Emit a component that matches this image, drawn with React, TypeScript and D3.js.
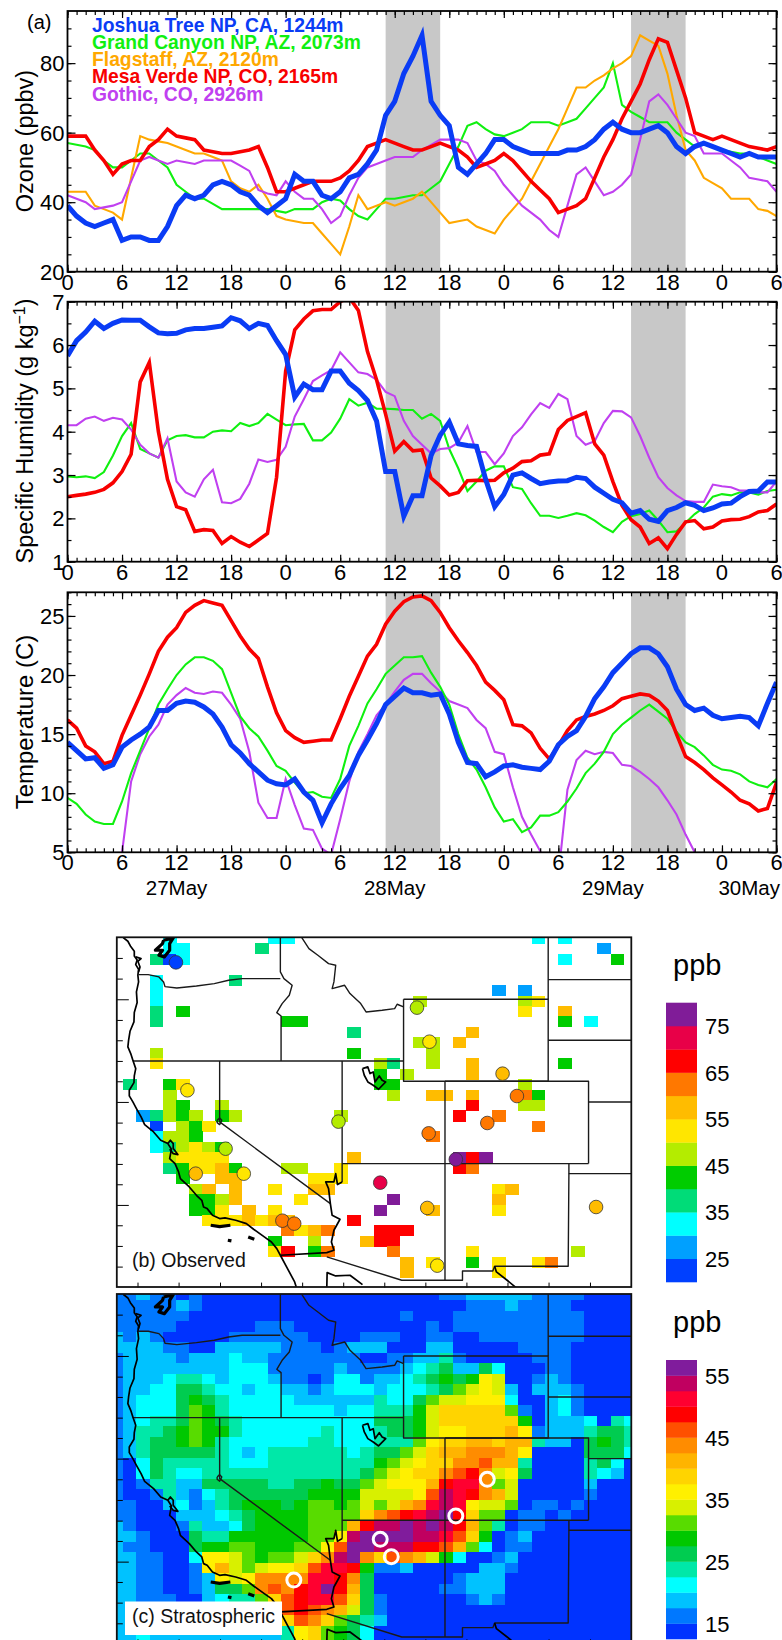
import React, { useEffect, useRef } from "react";
import * as d3 from "d3";

const hours = d3.range(0, 79);
const hourLabels = ["0", "6", "12", "18", "0", "6", "12", "18", "0", "6", "12", "18", "0", "6"];
const shadedSpans = [[35, 41], [62, 68]];
const dateLabels = ["27May", "28May", "29May", "30May"];
const dateHours = [12, 36, 60, 75];

const siteNames = ["Joshua Tree NP, CA, 1244m", "Grand Canyon NP, AZ, 2073m", "Flagstaff, AZ, 2120m", "Mesa Verde NP, CO, 2165m", "Gothic, CO, 2926m"];
const siteColors = ["#0a3cf5", "#10f010", "#ffa800", "#f80000", "#c040f0"];

const ozoneJoshua = [
  39, 36, 34, 33, 34, 35, 29, 30, 30, 29,
  29, 33, 39, 42, 41, 42, 45, 46, 45, 43,
  42, 39, 37, 39, 41, 48, 46, 46, 42, 41,
  43, 47, 48, 51, 55, 65, 69, 77, 82, 88,
  69, 65, 62, 50, 48, 51, 54, 58, 58, 56,
  55, 54, 54, 54, 54, 55, 55, 56, 58, 61,
  63, 61, 60, 60, 61, 62, 60, 56, 54, 56,
  57, 56, 55, 54, 53, 54, 53, 53, 53,
];
const ozoneGrand = [
  57, 56.5, 56, 55, 52, 50, 50, 52, 54, 54,
  52, 50, 45, 43, 41, 41, 39.5, 38, 38, 38,
  38, 38, 38, 37.5, 37, 38, 38, 38, 40, 41,
  40.5, 38, 36, 35, 38, 41, 41, 41.5, 42, 42,
  44, 46, 51, 56, 62, 63, 61, 59.5, 59, 60,
  61, 63, 63, 63, 62, 63, 64, 67, 70, 73,
  80, 68, 66, 64.5, 63, 63, 63, 60, 58, 56,
  57, 56, 55, 54.5, 54, 54, 53, 52, 51,
];
const ozoneFlagstaff = [
  43, 43, 43, 39, 38, 37, 35, 47, 59, 58,
  57.5, 57, 56, 55, 54, 54, 53, 52, 46, 44,
  43, 45, 41, 36, 35, 34.5, 34, 34, 31, 28,
  25, 33, 42, 38, 39, 40, 39, 40, 41, 43,
  40, 37, 34, 34.5, 35, 33, 32, 31, 35, 38,
  41, 46, 51, 56, 61, 67, 73, 73, 75, 76.5,
  78.5, 80, 82, 88, 86.5, 85, 77, 65, 55, 52,
  47, 45.5, 44, 41, 41, 41, 38, 37.5, 36,
];
const ozoneMesa = [
  59, 59, 59, 55, 52, 48, 51, 52, 52, 56,
  58, 61, 59, 58.5, 58, 55, 54.5, 54, 54, 54.5,
  55, 56, 50, 43, 43, 44, 45, 46, 46, 46,
  47, 49, 52, 56, 57, 58, 57, 56, 55, 55,
  56, 57, 56, 55, 53, 50, 51, 52, 54, 52,
  49, 46, 43.5, 41, 37, 38, 39, 41, 47, 53,
  58, 64, 69, 74, 81, 87, 86, 78, 70, 60,
  59, 58, 59, 58, 57, 56, 55.5, 55, 56,
];
const ozoneGothic = [
  42, 41, 40, 38, 38.5, 39, 40, 46, 52, 53,
  52, 51, 52, 51.5, 51, 52, 52, 52, 52, 50.5,
  49, 43.5, 42.5, 42, 46, 43, 41, 41, 38, 34,
  36, 42, 47, 50, 51, 52, 53, 53, 53, 55,
  56.5, 58, 58, 58, 57, 52, 51, 49, 45, 42,
  39, 37, 35, 32, 30, 39, 48, 50, 46, 42,
  43, 45, 48, 58, 69, 71, 68, 64, 60, 59,
  54, 54, 54, 52, 50, 47, 46.5, 46, 43,
];

const humidJoshua = [
  5.75, 6.1, 6.3, 6.55, 6.38, 6.5, 6.58, 6.57, 6.57, 6.42,
  6.28, 6.26, 6.27, 6.35, 6.38, 6.38, 6.41, 6.44, 6.63, 6.56,
  6.38, 6.5, 6.45, 6.1, 5.78, 4.8, 5.1, 4.97, 4.97, 5.4,
  5.4, 5.12, 4.95, 4.72, 4.25, 3.08, 3.08, 2.05, 2.52, 2.52,
  3.45, 3.92, 4.22, 3.72, 3.68, 3.66, 2.9, 2.27, 2.55, 3.0,
  3.05, 2.92, 2.8, 2.84, 2.86, 2.87, 2.95, 2.92, 2.72, 2.58,
  2.44, 2.36, 2.12, 2.18, 1.98, 1.93, 2.18, 2.25, 2.36, 2.3,
  2.18, 2.24, 2.33, 2.35, 2.5, 2.62, 2.63, 2.84, 2.84,
];
const humidGrand = [
  2.97, 2.95, 2.97, 2.93, 3.07, 3.45, 3.9, 4.2, 3.6, 3.5,
  3.4, 3.8, 3.9, 3.92, 3.87, 3.87, 4.0, 4.03, 4.01, 4.2,
  4.13, 4.2, 4.41, 4.28, 4.15, 4.17, 4.18, 3.8, 3.8, 3.98,
  4.3, 4.75, 4.6, 4.67, 4.53, 4.53, 4.52, 4.5, 4.5, 4.3,
  4.41, 4.25, 3.6, 3.15, 2.63, 2.85, 3.1, 3.2, 3.2, 2.72,
  2.68, 2.35, 2.06, 2.06, 2.01, 2.06, 2.12, 2.07, 1.95, 1.8,
  1.68, 1.92, 2.05, 2.1, 2.18, 1.95, 1.68, 1.7, 1.9, 2.1,
  2.25, 2.5, 2.56, 2.53, 2.6, 2.6, 2.55, 2.63, 2.66,
];
const humidMesa = [
  2.5, 2.53, 2.56, 2.6, 2.67, 2.82, 3.08, 3.48, 5.15, 5.6,
  4.0, 2.9, 2.27, 2.2, 1.7, 1.74, 1.72, 1.42, 1.58, 1.45,
  1.35, 1.5, 1.65, 2.95, 5.4, 6.35, 6.6, 6.79, 6.82, 6.82,
  7.0, 7.1, 6.8, 5.85, 5.2, 4.4, 3.55, 3.77, 3.56, 3.58,
  2.93, 2.75, 2.54, 2.6, 2.87, 2.88, 2.87, 2.88, 3.05, 3.16,
  3.31, 3.33, 3.46, 3.49, 4.05, 4.26, 4.35, 4.44, 3.72, 3.46,
  2.85, 2.3, 1.97, 1.8, 1.42, 1.55, 1.3, 1.63, 1.92, 1.95,
  1.76, 1.8, 1.94, 1.97, 1.98, 2.04, 2.15, 2.18, 2.33,
];
const humidGothic = [
  4.15, 4.15, 4.3, 4.35, 4.25, 4.32, 4.28, 4.05, 3.7, 3.5,
  3.4, 3.85, 2.85, 2.6, 2.5, 2.9, 3.12, 2.37, 2.35, 2.45,
  2.8, 3.36, 3.3, 3.35, 3.65, 4.35, 4.75, 5.17, 5.3, 5.42,
  5.83, 5.6, 5.37, 5.33, 5.2, 4.92, 4.82, 4.25, 3.9, 3.7,
  3.5, 3.6, 3.62, 3.75, 4.13, 3.53, 3.53, 3.25, 3.5, 3.9,
  4.1, 4.4, 4.66, 4.55, 4.87, 4.75, 3.9, 3.7, 3.78, 4.2,
  4.48, 4.47, 4.33, 3.9, 3.4, 2.95, 2.7, 2.53, 2.4, 2.38,
  2.38, 2.78, 2.74, 2.72, 2.64, 2.64, 2.6, 2.6, 2.85,
];

const tempJoshua = [
  14.3, 13.6, 12.9, 13, 12.1, 12.4, 13.9, 14.5, 15, 15.6,
  17, 17, 17.6, 17.8, 17.7, 17.3, 16.7, 15.6, 14.1, 13.4,
  12.5, 11.8, 11.1, 10.8, 10.7, 11.2, 10.1, 9.4, 7.5, 9.1,
  10.4, 11.5, 13.2, 14.5, 15.9, 17.5, 18.2, 18.9, 18.5, 18.5,
  18.3, 18.4, 16.7, 14.3, 12.6, 12.5, 11.4, 11.8, 12.3, 12.4,
  12.2, 12.1, 12, 12.7, 14.1, 14.8, 15.3, 16.5, 18, 19,
  20.2, 21, 21.8, 22.3, 22.3, 21.8, 20.7, 18.8, 17.5, 17,
  17.2, 16.6, 16.3, 16.4, 16.5, 16.4, 15.7, 17.6, 19.4,
];
const tempGrand = [
  9.6, 9.1, 8.2, 7.6, 7.4, 7.4, 9.3, 11.7, 13.6, 15.5,
  17.5, 18.8, 20, 20.9, 21.5, 21.5, 21.2, 20.5, 18.5, 16.5,
  15.5, 14.8, 13.6, 12.3, 11.9, 10.9, 10, 10.1, 9.7, 9.6,
  11.2, 14, 15.7, 17.6, 18.8, 20.1, 20.8, 21.5, 21.5, 21.6,
  20.2, 19, 17.5, 15, 13, 12, 10.5, 8.8, 7.6, 7.8,
  6.7, 7.1, 8.1, 8.1, 8.4, 9.3, 10.4, 11.7, 12.5, 13.5,
  15, 15.8, 16.4, 17, 17.5, 16.9, 16.3, 15.2, 14.3, 13.9,
  13.2, 12.4, 12, 11.9, 11.6, 11, 10.7, 10.5, 11.2,
];
const tempMesa = [
  16.2, 15.5, 14, 13.5, 12.5, 12.7, 14.9, 16.6, 18.3, 20.1,
  22, 23.2, 24, 25.3, 25.9, 26.3, 26.1, 25.9, 24.6, 23.3,
  22.2, 21.4, 19, 16.8, 15.3, 14.7, 14.3, 14.4, 14.5, 14.5,
  16.3, 18.2, 19.9, 21.6, 22.6, 24.3, 25.4, 26.2, 26.6, 26.7,
  26.3, 25.3, 24, 22.9, 21.9, 20.8, 19.4, 18.7, 17.9, 15.8,
  15.7, 15.1, 13.8, 12.9, 14, 15.3, 16.2, 16.5, 16.7, 17,
  17.4, 18, 18.2, 18.4, 18.3, 17.8, 17, 15, 13.1, 12.6,
  12, 11.3, 10.7, 10.1, 9.4, 9.1, 8.5, 8.7, 10.9,
];
const tempGothic = [
  3, 3, 3, 3, 3, 3, 5, 11, 13.3, 14.8,
  15.8, 17.5, 18.3, 18.9, 18.5, 18.4, 18.6, 18.5, 17.5, 16.3,
  13.5, 9.2, 7.9, 7.9, 11.2, 9, 7, 6.9, 5.3, 4.8,
  7.8, 11, 13.5, 15, 16.6, 17.5, 18.6, 19.6, 20.1, 20.1,
  19.3, 18.6, 17.8, 17.5, 17.2, 16.2, 15.5, 13.5, 13.3, 10.5,
  8, 6.5, 5.1, 3, 3, 10.3, 12.8, 13.6, 13.3, 13.5,
  13.4, 12.4, 12.3, 11.8, 11.2, 10.5, 9.4, 8.2, 6.5, 5,
  3.5, 3, 3, 3, 3, 3, 3, 3, 3,
];

// colour steps of the two maps, bottom of the colour bar first
const obsLevels = ["a", "b", "c", "d", "e", "f", "g", "h", "i", "j", "k", "l"];
const obsColors = ["#0040ff", "#00a0ff", "#00ffff", "#00dc78", "#00cc00", "#b4ec00", "#ffe600", "#ffbc00", "#ff7800", "#ff0000", "#e80048", "#801c98"];
const obsTicks = [25, 35, 45, 55, 65, 75];
const stratLevels = ["a", "b", "c", "d", "e", "f", "g", "h", "i", "j", "k", "l", "m", "n", "o", "p", "q", "r"];
const stratColors = ["#0033ff", "#0078ff", "#00c2ff", "#00ffff", "#00e8a8", "#00cc50", "#00c800", "#58dc00", "#d8f000", "#fff000", "#ffd400", "#ffb400", "#ff8c00", "#ff5000", "#ff0000", "#ff0030", "#c00060", "#801c9c"];
const stratTicks = [15, 25, 35, 45, 55];

// observed cells: column, row, colour step
const obsCells: [number, number, string][] = [
  [12, 0, "c"], [13, 0, "c"], [32, 0, "c"], [34, 0, "c"], [4, 0, "c"],
  [4, 1, "c"], [5, 1, "c"], [11, 1, "d"], [37, 1, "b"],
  [3, 2, "d"], [4, 2, "a"], [5, 2, "c"], [34, 2, "c"], [38, 2, "e"],
  [3, 4, "c"], [9, 4, "d"],
  [3, 5, "c"], [29, 5, "b"], [31, 5, "b"],
  [3, 6, "c"], [23, 6, "f"], [31, 6, "f"], [32, 6, "g"],
  [3, 7, "d"], [5, 7, "e"], [31, 7, "g"], [34, 7, "h"],
  [3, 8, "d"], [13, 8, "e"], [14, 8, "e"], [34, 8, "e"], [36, 8, "c"],
  [18, 9, "d"], [27, 9, "h"],
  [23, 10, "f"], [24, 10, "f"], [26, 10, "h"],
  [3, 11, "f"], [18, 11, "e"], [24, 11, "f"],
  [3, 12, "g"], [20, 12, "f"], [21, 12, "d"], [24, 12, "f"], [27, 12, "h"], [34, 12, "e"],
  [20, 13, "e"], [22, 13, "f"], [27, 13, "h"],
  [1, 14, "d"], [4, 14, "e"], [5, 14, "g"], [20, 14, "e"], [21, 14, "e"], [31, 14, "f"],
  [4, 15, "f"], [21, 15, "f"], [24, 15, "h"], [25, 15, "h"], [27, 15, "h"], [31, 15, "i"], [32, 15, "e"],
  [4, 16, "f"], [5, 16, "e"], [8, 16, "f"], [27, 16, "j"], [31, 16, "f"], [32, 16, "f"],
  [2, 17, "b"], [3, 17, "d"], [4, 17, "f"], [5, 17, "e"], [6, 17, "f"], [8, 17, "e"], [9, 17, "f"], [17, 17, "f"], [26, 17, "j"], [29, 17, "i"],
  [3, 18, "a"], [5, 18, "f"], [6, 18, "e"], [7, 18, "g"], [32, 18, "i"],
  [3, 19, "c"], [4, 19, "f"], [5, 19, "f"], [6, 19, "e"], [24, 19, "i"],
  [3, 20, "c"], [4, 20, "d"], [5, 20, "f"], [6, 20, "g"], [7, 20, "f"], [8, 20, "e"],
  [4, 21, "f"], [5, 21, "g"], [6, 21, "g"], [7, 21, "g"], [8, 21, "g"], [18, 21, "h"], [26, 21, "l"], [27, 21, "j"], [28, 21, "l"],
  [4, 22, "d"], [5, 22, "e"], [6, 22, "g"], [7, 22, "g"], [8, 22, "h"], [9, 22, "e"], [13, 22, "f"], [14, 22, "f"], [17, 22, "g"], [26, 22, "j"], [27, 22, "i"],
  [5, 23, "e"], [8, 23, "h"], [9, 23, "h"], [15, 23, "g"], [16, 23, "g"], [17, 23, "g"],
  [6, 24, "f"], [7, 24, "h"], [9, 24, "h"], [12, 24, "g"], [15, 24, "h"], [16, 24, "h"], [29, 24, "g"], [30, 24, "h"],
  [6, 25, "e"], [7, 25, "e"], [8, 25, "f"], [9, 25, "h"], [14, 25, "g"], [21, 25, "l"], [29, 25, "h"],
  [6, 26, "e"], [7, 26, "e"], [8, 26, "g"], [10, 26, "h"], [12, 26, "g"], [20, 26, "l"], [24, 26, "h"], [29, 26, "g"],
  [7, 27, "g"], [8, 27, "g"], [9, 27, "g"], [10, 27, "h"], [11, 27, "g"], [12, 27, "h"], [13, 27, "h"], [18, 27, "j"],
  [13, 28, "i"], [14, 28, "g"], [15, 28, "h"], [16, 28, "i"], [20, 28, "j"], [21, 28, "j"], [22, 28, "j"],
  [12, 29, "e"], [15, 29, "f"], [19, 29, "h"], [20, 29, "j"], [21, 29, "j"],
  [12, 30, "g"], [13, 30, "j"], [15, 30, "e"], [16, 30, "i"], [21, 30, "i"], [27, 30, "g"], [35, 30, "f"],
  [22, 31, "h"], [24, 31, "g"], [27, 31, "e"], [29, 31, "g"], [32, 31, "g"], [33, 31, "i"],
  [22, 32, "h"], [29, 32, "g"],
];

// observation sites: column, row, colour step
const obsSites: [number, number, string][] = [
  [5.0, 2.83, "a"], [23.3, 7.16, "f"], [24.25, 10.42, "g"], [5.87, 15.07, "g"], [17.34, 18.07, "f"],
  [30.89, 15.62, "i"], [28.64, 18.2, "i"], [24.19, 19.19, "i"], [29.8, 13.48, "h"], [8.77, 20.66, "f"],
  [26.25, 21.68, "l"], [6.5, 23.05, "h"], [10.15, 23.05, "g"], [20.51, 23.91, "k"], [24.08, 26.33, "h"],
  [36.9, 26.24, "h"], [13.08, 27.55, "i"], [13.98, 27.83, "i"], [24.84, 31.85, "g"],
];
const stratSites: [number, number][] = [[28.64, 18.06], [26.25, 21.55], [20.51, 23.77], [21.35, 25.43], [13.95, 27.65]];

// stratospheric ozone, one string per grid row, one colour step per column
const stratRows = [
  "bbcbbabaaaaaaaaaaaaaaaaaabbcccccbbbbaaaa",
  "bbbbbcbaaaaaaaaaaaaaaaaaaaabbbcbbbbaaaaa",
  "bbbbbbaaaaaaaaaaaaaaaabaaabbbbbbbbbbaaaa",
  "bbbbbaaaaaabbbaaaaaaaaaababbbbbbbbbbaaaa",
  "cbcbaaaaabbbbbbaaaabbbaabbaabbbbbbbbaaaa",
  "ccccbbaacccccbbbabcccaaaccaaaaabbbbaaaaa",
  "bccccbcccdccbbbbbbbaabbccebaaaaabbbaaaaa",
  "bccccccccdddbbbbbcbbbbcdefccfdaaabbaaaaa",
  "bcccdeedcdddcbbabddbccdefgfgjiaabcbaaaaa",
  "bccddffeddcddccbcdddcdddefhijicacccbaaaa",
  "bcdddfgfedddddcccccceddfhiijjjdaacdbaaaa",
  "bcdddfhgeddddddddcddeeegikkkkkhbacdbaaaa",
  "bcdeefhgfeddddddddddfffgikkkkkkgacccdaed",
  "bceefghggeddddddedddeffgijjkkkljbccceffe",
  "bceffghgeddddddeedddeeehjkkllklleccafgfe",
  "bcefffffedcdeeeeeedeffhikllmmmljaaaafffd",
  "badfeeeeedddeeeeeeeeghijkkmmnlleaaaaefda",
  "badfeddeeeeeeeeeeeefhijkkmnomijfaaaaedca",
  "babeeccfffffeeffgffhijjjloppmhiaaaaacaaa",
  "baabecbdeffffffggggiiiijnqpomliaaaaabaaa",
  "bbaacdbcefgggfghhghihilmpqpjiihabbabaaaa",
  "bbaaacccdefgggghhhhkmnopqrokhhabbabaaaaa",
  "cbaaabeccdfgggghhhloqqrqrqolheabbaaaaaaa",
  "ccbaaafeegggggghhjqrrrrqqpnkgabcaaaaaaaa",
  "cbbaaafgghhggghhjnrrqqqoonlhdabbaaaaaaaa",
  "ccbbaadjjihghhikmqrmknmligdaabcaaaaaaaaa",
  "ccbbaabjlihijjknppogbbcaaaaaccbaaaaaaaaa",
  "ccbbaabcjijmmmmppomfaaaaaabcccaaaaaaaaaa",
  "ccbbaabcffhmnmoprolfaaaaabbcccaaaaaaaaaa",
  "ccbbbaacdeehknoppnkfbaaaaaabcbaaaaaaaaaa",
  "ccbbcccccccccnonmlifbaaaaaaaaaaaaaaaaaaa",
  "cccccccccccccknmkhfecaaaaaaaaaaaaaaaaaaa",
  "ccdccccccccccejkhgfdaaaaaaaaaaaaaaaaaaaa",
  "ccdccccccccccejkhgfdaaaaaaaaaaaaaaaaaaaa",
];

// outlines, in map units of the observed panel
const coastLine = [[65, 37], [78, 48], [85, 62], [96, 78], [96, 92], [104, 104], [100, 118], [108, 132], [106, 150], [108, 170], [102, 200], [104, 232], [96, 262], [95, 290], [84, 318], [80, 345], [78, 365], [86, 385], [92, 405], [100, 430], [96, 452], [95, 472], [82, 495], [82, 512], [92, 530], [102, 550], [115, 575], [125, 598], [150, 620], [170, 645], [190, 655], [200, 672], [195, 700], [210, 715], [220, 740], [225, 760], [250, 785], [270, 810], [285, 825], [290, 845], [300, 850], [315, 870], [335, 880], [350, 878], [380, 885], [410, 895], [430, 912], [460, 935], [480, 950], [495, 970], [505, 990], [525, 1030], [545, 1070], [550, 1087]];
const bayLine = [[190, 655], [197, 645], [205, 655], [205, 670], [218, 688], [205, 685], [195, 672]];
const washBay = [[100, 95], [115, 100], [106, 108], [112, 125], [108, 140]];
const pugetSound = [[178, 45], [205, 38], [195, 55], [195, 75], [180, 95], [165, 90], [175, 75], [155, 75], [175, 55], [178, 45]];
const washOregon = [[108, 148], [135, 148], [165, 155], [178, 170], [182, 184], [215, 188], [270, 182], [320, 175], [360, 165], [398, 160], [505, 160]];
const idahoWest = [[505, 37], [505, 140], [515, 160], [538, 180], [530, 210], [510, 235], [495, 262], [507, 272], [507, 407]];
const idahoMontana = [[565, 37], [585, 70], [610, 90], [640, 115], [660, 120], [655, 170], [650, 190], [685, 180], [700, 205], [730, 235], [745, 260], [790, 255], [825, 250], [832, 237], [850, 245]];
const wyoming = [[850, 222], [850, 468], [1255, 468], [1255, 222], [850, 222]];
const eastEdge = [[1255, 37], [1255, 222]];
const dakotas = [[1255, 163], [1488, 163]];
const nebraskaNorth = [[1255, 345], [1488, 345]];
const coloradoNorth = [[966, 468], [1368, 468], [1368, 715]];
const kansasNorth = [[1368, 530], [1488, 530]];
const fourCorners = [[678, 715], [1368, 715]];
const coloradoWest = [[966, 468], [966, 1065]];
const panhandle = [[1313, 715], [1313, 745], [1488, 745]];
const texasLine = [[1313, 745], [1311, 1023], [1105, 1023], [1100, 1037], [1015, 1037], [1015, 1065], [845, 1065], [635, 995]];
const riverLine = [[678, 770], [665, 778], [660, 745], [655, 770], [632, 770], [640, 790], [645, 835], [650, 870], [672, 882], [655, 915], [648, 950], [655, 975], [635, 982], [505, 990]];
const nevadaWest = [[335, 407], [335, 590], [645, 835]];
const tahoe = [[328, 585], [335, 578], [341, 585], [335, 598], [328, 592], [328, 585]];
const north42 = [[92, 407], [850, 407]];
const nevadaEast = [[678, 407], [678, 770]];
const rioGrande = [[1105, 1023], [1110, 1040], [1140, 1065], [1165, 1087]];
const baja = [[635, 1087], [636, 1042], [660, 1052], [700, 1050], [735, 1078]];
const saltLake = [[735, 430], [750, 425], [756, 445], [765, 440], [770, 470], [782, 452], [790, 465], [800, 470], [780, 492], [765, 480], [750, 470], [740, 450], [735, 430]];
const islandA = [[310, 900], [335, 904], [365, 900]];
const islandB = [[358, 945], [368, 947]];
const islandC = [[415, 935], [432, 942]];

const stateLines = [washOregon, idahoWest, idahoMontana, wyoming, eastEdge, dakotas, nebraskaNorth, coloradoNorth, kansasNorth, fourCorners, coloradoWest, panhandle, texasLine, nevadaWest, tahoe, north42, nevadaEast];
const coastLines = [coastLine, bayLine, washBay, riverLine, rioGrande, baja, saltLake];
const thickLines = [pugetSound, islandA, islandB, islandC];

const sideTickValues = [98, 160, 222, 284, 345, 407, 468, 530, 592, 654, 716, 777, 839, 900, 962, 1024];
const longSideTicks = [222, 530, 839];
const bottomTickValues = [105, 220, 336, 451, 566, 681, 796, 911, 1026, 1141, 1256, 1372];

const FONT = "'Liberation Sans', Arial, sans-serif";
const LEFT = 67.5;
const RIGHT = 776.5;
const THIN = 2.1;
const MEDIUM = 3.6;
const WIDE = 5;
const x = d3.scaleLinear().domain([0, 78]).range([LEFT, RIGHT]);

function drawPanel(svg, o) {
  const y = d3.scaleLinear().domain(o.domain).range([o.bottom, o.top]);
  const g = svg.append("g");
  const clipId = `clip-${o.id}`;
  svg.append("clipPath").attr("id", clipId).append("rect").attr("x", LEFT).attr("y", o.top).attr("width", RIGHT - LEFT).attr("height", o.bottom - o.top);

  g.selectAll("rect.shade").data(shadedSpans).join("rect")
    .attr("x", (d) => x(d[0])).attr("width", (d) => x(d[1]) - x(d[0]))
    .attr("y", o.top).attr("height", o.bottom - o.top).attr("fill", "#c8c8c8");

  const line = d3.line().x((d, i) => x(hours[i])).y((d) => y(d));
  const lines = g.append("g").attr("clip-path", `url(#${clipId})`);
  o.series.forEach((s) => {
    lines.append("path").datum(s.values).attr("d", line).attr("fill", "none")
      .attr("stroke", siteColors[s.site]).attr("stroke-width", s.width).attr("stroke-linejoin", "miter");
  });

  const xMajor = d3.range(0, 79, 6);
  const minorX = d3.range(0, 79);
  const axes = [
    [d3.axisBottom(x), o.bottom],
    [d3.axisTop(x), o.top],
  ];
  axes.forEach(([axis, pos]) => {
    const a = g.append("g").attr("transform", `translate(0,${pos})`);
    const inward = pos === o.bottom ? -1 : 1;
    a.call(axis.tickValues(minorX).tickSize(4).tickFormat(() => ""));
    a.selectAll("line").attr("y2", 4 * inward);
    a.select(".domain").remove();
    const b = g.append("g").attr("transform", `translate(0,${pos})`);
    b.call(axis.tickValues(xMajor).tickSize(7).tickFormat(() => ""));
    b.selectAll("line").attr("y2", 7 * inward);
    b.select(".domain").remove();
  });
  [d3.axisLeft(y), d3.axisRight(y)].forEach((axis, i) => {
    const inward = i === 0 ? 1 : -1;
    const pos = i === 0 ? LEFT : RIGHT;
    const a = g.append("g").attr("transform", `translate(${pos},0)`);
    a.call(axis.tickValues(o.minor).tickSize(4).tickFormat(() => ""));
    a.selectAll("line").attr("x2", 4 * inward);
    a.select(".domain").remove();
    const b = g.append("g").attr("transform", `translate(${pos},0)`);
    b.call(axis.tickValues(o.major).tickSize(8).tickFormat(() => ""));
    b.selectAll("line").attr("x2", 8 * inward);
    b.select(".domain").remove();
  });
  g.selectAll("line").attr("stroke", "#000").attr("stroke-width", 1.2);
  g.append("rect").attr("x", LEFT).attr("y", o.top).attr("width", RIGHT - LEFT).attr("height", o.bottom - o.top)
    .attr("fill", "none").attr("stroke", "#000").attr("stroke-width", 1.8);

  g.selectAll("text.xt").data(xMajor).join("text").attr("class", "xt")
    .attr("x", (d) => x(d)).attr("y", o.bottom + 18).attr("text-anchor", "middle")
    .attr("font-family", FONT).attr("font-size", 22).text((d, i) => hourLabels[i]);
  g.selectAll("text.yt").data(o.major).join("text").attr("class", "yt")
    .attr("x", LEFT - 3).attr("y", (d) => y(d) + 8).attr("text-anchor", "end")
    .attr("font-family", FONT).attr("font-size", 22).text((d) => d);

  const yl = g.append("text").attr("transform", `translate(${o.labelX},${o.labelY}) rotate(-90)`)
    .attr("text-anchor", "middle").attr("font-family", FONT).attr("font-size", o.labelSize);
  yl.append("tspan").text(o.label);
  if (o.sup) {
    yl.append("tspan").attr("dy", -8).attr("font-size", o.labelSize * 0.68).text(o.sup);
    yl.append("tspan").attr("dy", 8).text(")");
  }
}

function drawMap(svg, o) {
  const id = `map-${o.id}`;
  svg.append("clipPath").attr("id", id).append("rect").attr("x", 116.5).attr("y", o.top).attr("width", 514.5).attr("height", o.bottom - o.top);
  const g = svg.append("g");
  const cells = g.append("g").attr("clip-path", `url(#${id})`).attr("shape-rendering", "crispEdges");
  const col = d3.scaleLinear().domain([0, 40]).range([110.1, 110.1 + 13.17 * 40]);
  const row = d3.scaleLinear().domain([0, 34]).range([o.top - o.rowShift, o.top - o.rowShift + o.rowPitch * 34]);
  const color = d3.scaleOrdinal().domain(o.levels).range(o.colors);

  cells.selectAll("rect").data(o.cells).join("rect")
    .attr("x", (d) => col(d[0])).attr("y", (d) => row(d[1]))
    .attr("width", col(1) - col(0) + 0.6).attr("height", row(1) - row(0) + 0.6)
    .attr("fill", (d) => color(d[2]));

  const mx = d3.scaleLinear().domain([47, 1488]).range([116.8, 631.4]);
  const my = d3.scaleLinear().domain([37, 1087]).range([o.top + 0.3, o.top + 350.3]);
  const path = d3.line().x((d) => mx(d[0])).y((d) => my(d[1]));
  const outlines = g.append("g").attr("clip-path", `url(#${id})`).attr("fill", "none").attr("stroke-linejoin", "round");
  stateLines.forEach((l) => outlines.append("path").datum(l).attr("d", path).attr("stroke", "#1a1a1a").attr("stroke-width", 1.4));
  coastLines.forEach((l) => outlines.append("path").datum(l).attr("d", path).attr("stroke", "#000").attr("stroke-width", 1.7));
  thickLines.forEach((l) => outlines.append("path").datum(l).attr("d", path).attr("stroke", "#000").attr("stroke-width", 3.2));

  const side = g.append("g").attr("transform", "translate(116.8,0)");
  side.call(d3.axisRight(my).tickValues(sideTickValues).tickSize(6).tickFormat(() => ""));
  side.select(".domain").remove();
  side.selectAll("line").attr("x2", (d) => (longSideTicks.includes(d) ? 12 : 6));
  const foot = g.append("g").attr("transform", `translate(0,${my(1087)})`);
  foot.call(d3.axisTop(mx).tickValues(bottomTickValues).tickSize(5).tickFormat(() => ""));
  foot.select(".domain").remove();
  g.selectAll("g line").attr("stroke", "#000").attr("stroke-width", 1);

  g.selectAll("circle.site").data(o.sites).join("circle").attr("class", "site")
    .attr("cx", (d) => col(d[0])).attr("cy", (d) => row(d[1])).attr("r", o.siteR)
    .attr("fill", (d) => (d[2] ? color(d[2]) : "none"))
    .attr("stroke", o.siteStroke).attr("stroke-width", o.siteWidth);

  if (o.boxed) {
    g.append("rect").attr("x", 125).attr("y", 1601.5).attr("width", 157).attr("height", 33.5).attr("fill", "#fff");
  }
  g.append("text").attr("x", 132).attr("y", o.tagY).attr("font-family", FONT).attr("font-size", 19.5).attr("fill", "#111").text(o.tag);
  g.append("rect").attr("x", 116.8).attr("y", o.top).attr("width", 514.5).attr("height", o.bottom - o.top)
    .attr("fill", "none").attr("stroke", "#111").attr("stroke-width", 1.8);

  // colour bar
  const bar = d3.scaleLinear().domain(o.barDomain).range([o.barBottom, o.barTop]);
  const step = (o.barDomain[1] - o.barDomain[0]) / o.colors.length;
  g.selectAll("rect.step").data(o.colors).join("rect").attr("class", "step")
    .attr("x", 666).attr("width", 31)
    .attr("y", (d, i) => bar(o.barDomain[0] + (i + 1) * step))
    .attr("height", bar(0) - bar(step) + 0.3)
    .attr("fill", (d) => d);
  g.selectAll("text.bt").data(o.ticks).join("text").attr("class", "bt")
    .attr("x", 705).attr("y", (d) => bar(d) + 8).attr("font-family", FONT).attr("font-size", 22).text((d) => d);
  g.append("text").attr("x", 673).attr("y", o.ppbY).attr("font-family", FONT).attr("font-size", 29).text("ppb");
}

function App() {
  const ref = useRef(null);

  useEffect(() => {
    const svg = d3.select(ref.current);
    svg.selectAll("*").remove();

    drawPanel(svg, {
      id: "o3", top: 11, bottom: 271.7, domain: [20, 95],
      major: [20, 40, 60, 80], minor: d3.range(20, 95, 5),
      label: "Ozone (ppbv)", labelX: 33, labelY: 141, labelSize: 23.5,
      series: [
        { site: 1, values: ozoneGrand, width: THIN },
        { site: 2, values: ozoneFlagstaff, width: THIN },
        { site: 4, values: ozoneGothic, width: THIN },
        { site: 3, values: ozoneMesa, width: MEDIUM },
        { site: 0, values: ozoneJoshua, width: WIDE },
      ],
    });
    drawPanel(svg, {
      id: "q", top: 301.7, bottom: 561.7, domain: [1, 7],
      major: [1, 2, 3, 4, 5, 6, 7], minor: d3.range(1, 7.5, 0.5),
      label: "Specific Humidity (g kg", sup: "−1", labelX: 33, labelY: 431, labelSize: 23.5,
      series: [
        { site: 1, values: humidGrand, width: THIN },
        { site: 4, values: humidGothic, width: THIN },
        { site: 3, values: humidMesa, width: MEDIUM },
        { site: 0, values: humidJoshua, width: WIDE },
      ],
    });
    drawPanel(svg, {
      id: "t", top: 592.3, bottom: 852.3, domain: [5, 27],
      major: [5, 10, 15, 20, 25], minor: d3.range(5, 28, 1),
      label: "Temperature (C)", labelX: 33, labelY: 722, labelSize: 24,
      series: [
        { site: 4, values: tempGothic, width: THIN },
        { site: 1, values: tempGrand, width: THIN },
        { site: 3, values: tempMesa, width: MEDIUM },
        { site: 0, values: tempJoshua, width: WIDE },
      ],
    });

    svg.append("text").attr("x", 27).attr("y", 29).attr("font-family", FONT).attr("font-size", 20).text("(a)");
    svg.selectAll("text.site").data(siteNames).join("text").attr("class", "site")
      .attr("x", 92).attr("y", (d, i) => 31.5 + i * 17.3)
      .attr("font-family", FONT).attr("font-weight", "bold").attr("font-size", 19.3)
      .attr("fill", (d, i) => siteColors[i]).text((d) => d);
    svg.selectAll("text.date").data(dateLabels).join("text").attr("class", "date")
      .attr("x", (d, i) => x(dateHours[i])).attr("y", 895).attr("text-anchor", "middle")
      .attr("font-family", FONT).attr("font-size", 20.5).text((d) => d);

    drawMap(svg, {
      id: "b", top: 937.3, bottom: 1287, rowShift: 4.5, rowPitch: 10.45,
      levels: obsLevels, colors: obsColors, cells: obsCells, sites: obsSites,
      siteR: 6.8, siteStroke: "#333", siteWidth: 0.8, tag: "(b) Observed", tagY: 1267,
      barDomain: [20, 80], barBottom: 1282, barTop: 1002.7, ticks: obsTicks, ppbY: 975,
    });
    const stratCells = stratRows.flatMap((r, j) => Array.from(r).map((c, i) => [i, j, c]));
    drawMap(svg, {
      id: "c", top: 1294, bottom: 1650, rowShift: 4.3, rowPitch: 10.5,
      levels: stratLevels, colors: stratColors, cells: stratCells, sites: stratSites,
      siteR: 7, siteStroke: "#fff", siteWidth: 3, tag: "(c) Stratospheric", tagY: 1623, boxed: true,
      barDomain: [12.5, 57.5], barBottom: 1639, barTop: 1360, ticks: stratTicks, ppbY: 1331.7,
    });
  }, []);

  return <svg ref={ref} width={782} height={1640} style={{ position: "absolute", left: 0, top: 0, background: "#fff" }} />;
}

export default App;
